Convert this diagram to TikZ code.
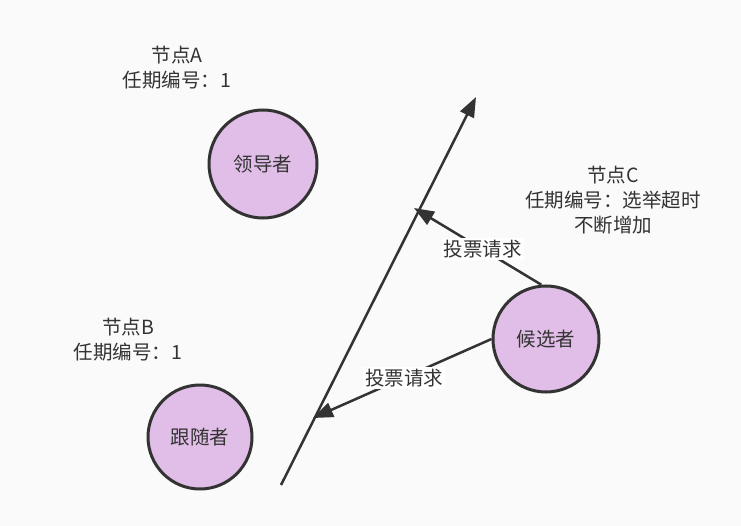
\documentclass[tikz,border=0pt]{standalone}
\usepackage{fontspec}
\setmainfont{Noto Sans CJK SC}
\usetikzlibrary{arrows.meta}
\definecolor{bg}{HTML}{FAFAFA}
\definecolor{ink}{HTML}{333333}
\definecolor{nodefill}{HTML}{E1BEE7}
\begin{document}
\begin{tikzpicture}[x=1pt,y=-1pt,
  role/.style={circle, draw=ink, line width=3pt, fill=nodefill, minimum size=106pt, inner sep=0pt, text=ink, font=\fontsize{19.5}{22}\selectfont},
  info/.style={align=center, text=ink, inner sep=0pt, font=\fontsize{19.5}{25}\selectfont},
  link/.style={draw=ink, line width=2.5pt, -{Triangle[length=20pt,width=15pt]}},
  tag/.style={fill=white, text=ink, inner sep=2pt, font=\fontsize{19.5}{22}\selectfont}]
\fill[bg] (0,0) rectangle (741,526);
\useasboundingbox (0,0) rectangle (741,526);

\node[role, minimum size=108pt] (leader) at (263,164) {领导者};
\node[role] (cand) at (546,339) {候选者};
\node[role, minimum size=104pt] (follow) at (200,437) {跟随者};

\node[info] (infoA) at (177,68) {节点A\\任期编号：1};
\node[info] (infoB) at (128,340) {节点B\\任期编号：1};
\node[info] (infoC) at (613,200) {节点C\\任期编号：选举超时\\不断增加};

\coordinate (lineS) at (281,485);
\coordinate (lineE) at (476,97);
\coordinate (hitA) at (414,208);
\coordinate (hitB) at (313,418);

\draw[link] (lineS) -- (lineE);
\draw[link] (cand.95) -- (hitA) node[tag, pos=0.46] {投票请求};
\draw[link] (cand.west) -- (hitB) node[tag, pos=0.49] {投票请求};
\end{tikzpicture}
\end{document}
